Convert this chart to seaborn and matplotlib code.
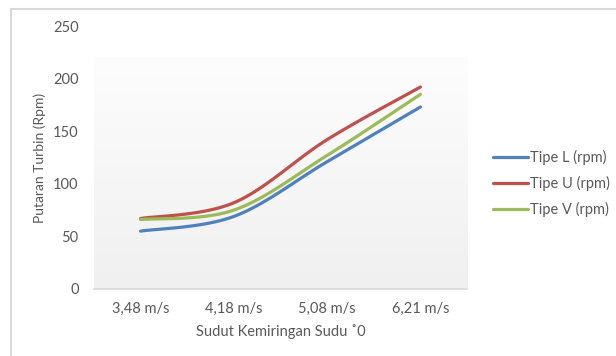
import numpy as np
import pandas as pd
import matplotlib
matplotlib.use("Agg")
import matplotlib.pyplot as plt
from matplotlib.lines import Line2D
import seaborn as sns

# Data
categories = ["3,48 m/s", "4,18 m/s", "5,08 m/s", "6,21 m/s"]
tipe_l = [55, 69, 121, 173]
tipe_u = [67, 82, 142, 192]
tipe_v = [66, 75, 127, 185]
series_names = ["Tipe L (rpm)", "Tipe U (rpm)", "Tipe V (rpm)"]
y_ticks = [0, 50, 100, 150, 200, 250]

colors = ["#4F81BD", "#C0504D", "#9BBB59"]
text_grey = "#595959"


def smooth_curve(values, steps=40):
    """Cubic Bezier smoothing through the points (Catmull-Rom style control points)."""
    pts = np.column_stack([np.arange(len(values), dtype=float), np.asarray(values, float)])
    padded = np.vstack([pts[0], pts, pts[-1]])
    xs, ys = [], []
    t = np.linspace(0, 1, steps)
    for i in range(len(pts) - 1):
        p0, p3 = pts[i], pts[i + 1]
        c1 = p0 + (padded[i + 2] - padded[i]) / 6.0
        c2 = p3 - (padded[i + 3] - padded[i + 1]) / 6.0
        seg = ((1 - t) ** 3)[:, None] * p0 + (3 * (1 - t) ** 2 * t)[:, None] * c1 \
            + (3 * (1 - t) * t ** 2)[:, None] * c2 + (t ** 3)[:, None] * p3
        xs.extend(seg[:, 0]); ys.extend(seg[:, 1])
    return np.array(xs), np.array(ys)


frames = []
for name, vals in zip(series_names, [tipe_l, tipe_u, tipe_v]):
    sx, sy = smooth_curve(vals)
    frames.append(pd.DataFrame({"x": sx, "y": sy, "series": name}))
df = pd.concat(frames, ignore_index=True)

sns.set_theme(style="white")
plt.rcParams["font.family"] = ["Lato", "DejaVu Sans"]

fig = plt.figure(figsize=(6.16, 3.56), dpi=100)
fig.patch.set_facecolor("white")
ax = fig.add_axes([94 / 616, 1 - 289 / 356, (467 - 94) / 616, (289 - 26) / 356])
ax.set_facecolor("none")

# chart border (left and top edges visible)
fig.add_artist(Line2D([11 / 616, 11 / 616], [0, 1 - 9 / 356], transform=fig.transFigure,
                      color="#d9d9d9", lw=1.5))
fig.add_artist(Line2D([11 / 616, 1], [1 - 9 / 356, 1 - 9 / 356], transform=fig.transFigure,
                      color="#d9d9d9", lw=1.5))

# plot-area gradient
grad = np.linspace(0, 1, 256)[:, None]
cmap = matplotlib.colors.LinearSegmentedColormap.from_list("pa", ["#f0f0f0", "#fdfdfd"])
ax.imshow(grad, extent=[-0.5, 3.5, 0, 220], origin="lower", aspect="auto",
          cmap=cmap, zorder=0, interpolation="bilinear")

sns.lineplot(data=df, x="x", y="y", hue="series", palette=colors, sort=False,
             estimator=None, units="series", lw=2.3, ax=ax, zorder=3)

ax.set_xlim(-0.5, 3.5)
ax.set_ylim(0, 250)
ax.set_xticks(range(len(categories)))
ax.set_xticklabels(categories)
ax.set_yticks(y_ticks)
ax.tick_params(axis="both", length=0, colors=text_grey, labelsize=10.5)
ax.tick_params(axis="x", pad=9)
ax.tick_params(axis="y", pad=11)
for s in ["top", "right", "left"]:
    ax.spines[s].set_visible(False)
ax.spines["bottom"].set_color("#d9d9d9")
ax.spines["bottom"].set_linewidth(1.2)
ax.grid(False)

ax.set_xlabel("Sudut Kemiringan Sudu \u02da0", color=text_grey, fontsize=10.5, labelpad=6)
ax.set_ylabel("Putaran Turbin (Rpm)", color=text_grey, fontsize=10, labelpad=5)

leg = ax.legend(loc="center left", bbox_to_anchor=(0.07, 0.40),
                bbox_transform=matplotlib.transforms.blended_transform_factory(
                    ax.transAxes, ax.transAxes),
                frameon=False, borderaxespad=0, borderpad=0,
                fontsize=10.5, handlelength=2.4, handletextpad=0.15, labelspacing=0.75)
# place legend to the right of the plot area
leg.set_bbox_to_anchor((1.07, 0.40), transform=ax.transAxes)
for t in leg.get_texts():
    t.set_color(text_grey)
for h in leg.get_lines():
    h.set_linewidth(2.3)

fig.savefig("out.png", dpi=100)
